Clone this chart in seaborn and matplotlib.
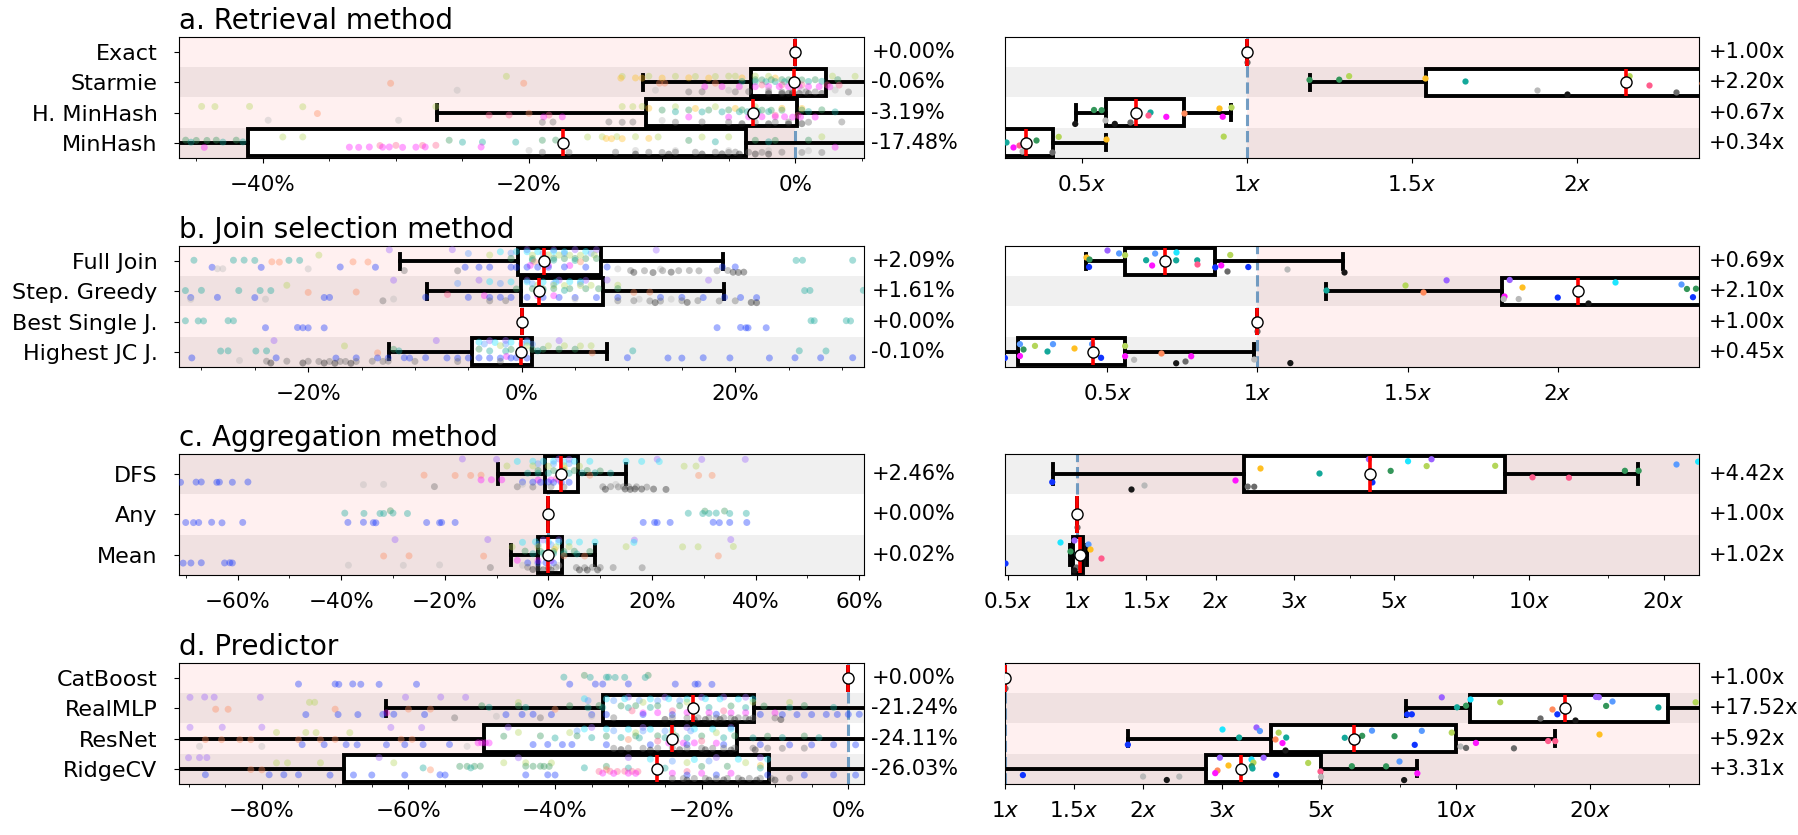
import matplotlib
matplotlib.use("Agg")
import matplotlib.pyplot as plt
from matplotlib.ticker import FuncFormatter, MultipleLocator, FixedLocator, NullFormatter
import numpy as np
import pandas as pd
import seaborn as sns

np.random.seed(3)  # only for the strip jitter

# dataset colours, in dodge order (top to bottom inside a row)
HUES = ["purple", "cyan", "lightblue", "lime", "gold", "seagreen", "teal",
        "salmon", "pink", "magenta", "blue", "lgray", "gray", "black"]
HUE_COLORS = ["#9b62ff", "#1ee6ff", "#5a9bff", "#b4d65a", "#ffbf22", "#34965a",
              "#14a89a", "#ff8a5c", "#ff5c8c", "#ff14ff", "#1034ff", "#b9b9b9",
              "#6a6a6a", "#181818"]

# ---------------- a. Retrieval method ----------------
RET_METHODS = ["Exact", "Starmie", "H. MinHash", "MinHash"]
RET_PERF_LABELS = [0.00, -0.06, -3.19, -17.48]
RET_TIME_LABELS = [1.00, 2.20, 0.67, 0.34]
# (whislo, q1, med, q3, whishi)
RET_PERF_BOX = [(0, 0, 0, 0, 0), (-11.4, -3.35, -0.06, 2.3, 7.0),
                (-26.9, -11.2, -3.19, 0.1, 6.0), (-60.0, -41.15, -17.48, -3.68, 8.0)]
RET_TIME_BOX = [(1, 1, 1, 1, 1), (1.19, 1.544, 2.15, 2.6, 3.5),
                (0.482, 0.573, 0.665, 0.811, 0.952), (0.2, 0.25, 0.332, 0.412, 0.573)]
RET_PERF_PTS = {
    "Starmie": {
        "lime": [-21.7, -13, -11, -9, -7.5, -6, -5, -4.5, -3, -2, 2.8, 4.5],
        "gold": [-13.1, -12, -11.5, -10, -8, -6.5, -4, -1.5],
        "salmon": [-30.4, -20.4, -10.2, -9.8, -6],
        "seagreen": [-3, -2.5, -1.8, -1, -0.5, 0.5, 1.5, 3.2],
        "teal": [-4, -3, -2.2, -1.5, -0.8, 0, 1, 2],
        "magenta": [-6.8, -5.5, -4.2, -3, -2, -1.2, -0.5, 0.3, 1.0, 1.8, 2.6],
        "pink": [-2.5, -1, 0.5, 2.4, 3.3],
        "lgray": [-25.4, -10.5, -5, -2, 0.5, 3],
        "gray": [-8, -7, -4.5, -3.5, -2, -1, -0.2, 0.8, 1.5, 4],
        "black": [-2, -1, -0.5, -0.2, 0.3, 1, 2],
    },
    "H. MinHash": {
        "lime": [-44.6, -43.6, -41, -37, -27, -13, -12.2, -11.5, -9, -6, -3],
        "salmon": [-35.9, -20],
        "lgray": [-39.6, -29.8, -10],
        "pink": [-23, -21.5, -18.5, -1.5, 0.2],
        "magenta": [-18.9, -17.5, -8, -5, -3.5, -2.5, -1.5, -0.8, -0.2, 0.4, 1.5],
        "gray": [-19, -18.2, -14, -13, -12.2, -9, -7, -5, -3, -1.5, -0.5, 1, 3.5],
        "seagreen": [-10, -8, -6.5, -5, -4, -3, -2.5, -1.8, -1, 0.5, 2],
        "teal": [-9, -7, -5.5, -4.2, -3.6, -2.8, -2, 1, 3],
        "gold": [-11, -7.5, -4.5, -1, 0.5],
        "black": [-4, -2, -0.5, 0.5],
    },
    "MinHash": {
        "seagreen": [-45.8, -45, -44.2, -43.5, -42, -26, -19, -18, -8, -3, -1.5, 1],
        "teal": [-45.4, -43, -41.5, -25, -23.5, -21, -6, -2],
        "magenta": [-44.4, -33.5, -32.8, -32, -31, -30.5, -29.5, -28.5, -27.8, -23.6, 3],
        "pink": [-31.2, -30, -28, -27],
        "lime": [-38.5, -37, -15.6, -14.5, -13.4, -12, -10.3, -7, -5, 2],
        "gold": [-14.2, -13.8, -13, -11],
        "lgray": [-20, -12, -9, -5, -2, 1],
        "gray": [-19, -17, -13.5, -11, -10, -9, -7.5, -6, -5, -4.5, -3.5, -2.5, -1, 0.5, 2],
        "black": [-12, -9.5, -7, -5.5, -4.2, -3, -2],
    },
}
RET_TIME_PTS = {
    "Exact": {"gray": [1.0]},
    "Starmie": {"seagreen": [1.19, 1.28], "lime": [1.31, 2.16], "gold": [1.54],
                "teal": [1.66], "lgray": [1.88], "black": [1.97], "pink": [2.22],
                "gray": [2.30], "salmon": [2.38]},
    "H. MinHash": {"black": [0.48, 0.60], "seagreen": [0.537, 0.56], "lgray": [0.57],
                   "gray": [0.647], "teal": [0.707], "pink": [0.70],
                   "magenta": [0.756, 0.927], "salmon": [0.81], "gold": [0.916],
                   "lime": [0.952]},
    "MinHash": {"teal": [0.27], "magenta": [0.29], "pink": [0.31], "lgray": [0.32],
                "seagreen": [0.36], "lime": [0.43, 0.93], "gray": [0.41], "gold": [0.573]},
}

# ---------------- b. Join selection method ----------------
JOIN_METHODS = ["Full Join", "Step. Greedy", "Best Single J.", "Highest JC J."]
JOIN_PERF_LABELS = [2.09, 1.61, 0.00, -0.10]
JOIN_TIME_LABELS = [0.69, 2.10, 1.00, 0.45]
JOIN_PERF_BOX = [(-11.4, -0.33, 2.09, 7.38, 18.86), (-8.9, -0.1, 1.61, 7.62, 18.95),
                 (0, 0, 0, 0, 0), (-12.4, -4.62, -0.10, 0.95, 8.0)]
JOIN_TIME_BOX = [(0.43, 0.56, 0.694, 0.86, 1.286), (1.23, 1.816, 2.068, 2.6, 3.0),
                 (1, 1, 1, 1, 1), (0.1, 0.204, 0.454, 0.56, 0.988)]
JOIN_PERF_PTS = {
    "Full Join": {
        "teal": [-30.7, -27, -26, -25, -21.8, -20.8, 1, 3, 5, 25.7, 26.3, 31],
        "lgray": [-28.5, -28, -20, 9, 13],
        "blue": [-29, -24.4, -17, -13.7, -5.3, -4, -3, -1, -0.5, 0.5, 1.5, 2.5, 4, 6, 8, 18.8, 20],
        "salmon": [-23.4, -22.7, -15.8, -14.4, 1.2, 5.5],
        "lime": [-19, -3, 1, 2.5, 3.5, 4.5, 5.5, 6.8],
        "purple": [-12.4, -6.5, 0.5, 3, 5, 7, 12.6],
        "cyan": [-2, -0.5, 0.5, 1.5, 3, 4, 6],
        "seagreen": [-1, 1, 2, 3, 4, 5, 6, 7],
        "magenta": [0.8, 2.5, 4.5],
        "gray": [-11, -6, 10.2, 11.5, 13.2, 14.7, 15.7, 16.6, 18.3, 19.3],
        "black": [10.5, 12.3, 14, 19.8, 20.3, 20.8],
        "lightblue": [-5, -1, 2, 4, 6.5],
    },
    "Step. Greedy": {
        "teal": [-31.5, -30, -26.5, -24.5, -23.5, 2, 4, 26.5, 27, 32],
        "lgray": [-31, -24, -12, 5, 11, 14],
        "blue": [-31, -28.5, -25, -18.5, -18, -9, -5, -3, -2, -1, 0.5, 2, 3.5, 5, 7, 9,
                 13, 15, 17, 19, 20.5, 22],
        "salmon": [-20, -15.5, 10.5, 12],
        "lime": [-22, 1.5, 3, 4, 5.5, 6.5, 9],
        "purple": [-12, -4, 0.5, 3.5, 6, 8, 17.5],
        "cyan": [-3, -1, 0.5, 2, 3.2, 4.5, 5.5],
        "seagreen": [-0.5, 1, 2, 3, 4.5, 6, 7.2, 9],
        "magenta": [-3.5, 1.5, 3],
        "gray": [-13, -3, -1.5, 9, 10.5, 12, 13, 15, 16.5, 18.5, 20],
        "black": [12.5, 15.5, 21.5, 22],
        "lightblue": [-6, -2, 1, 3, 5.5],
        "pink": [-7],
    },
    "Best Single J.": {
        "teal": [-31.5, -30.3, -29.8, -27.5, -27, 27.1, 27.4, 30.4, 30.8],
        "blue": [-24, -21, -20.5, -20, -18.5, 18.3, 20.5, 21, 21.2, 22.9],
    },
    "Highest JC J.": {
        "blue": [-30.9, -23, -17.4, -15.5, -13.5, -12.5, -11, -10.5, -9, -7, -6, -5, -4,
                 -3, -2, -1, -0.5, 0.5, 9.9, 13.7, 15, 17, 19.5, 23.2, 25.6, 28, 31],
        "teal": [-28.2, -27.5, -24.9, -23.9, -11.5, -3, -1.5, 0, 1.5, 10.4, 26, 28.5],
        "gray": [-23.9, -22, -20, -19, -18, -17, -16.5, -15.5, -14, -13, -12.5, -10, -6, -2],
        "black": [-23.5, -20.5, -18.5, -17.5, -16],
        "purple": [-23.2, -8, -3, -1.5, 0.5, 3.5],
        "lime": [-16.6, -2, 0.5, 2.5, 4, 5.5, 6.5],
        "seagreen": [-12, -4, -1, 1, 2, 3.5, 5],
        "salmon": [-13.5, 6.6],
        "cyan": [-4, -2.5, -1, 0.5],
        "lightblue": [-3.5, -1.5, 0, 1],
        "magenta": [-1.5],
        "lgray": [-26.5],
    },
}
JOIN_TIME_PTS = {
    "Full Join": {"purple": [0.5], "lightblue": [0.54, 0.66], "gold": [0.43],
                  "seagreen": [0.44], "blue": [0.44, 0.86, 0.97], "lime": [0.56, 0.91],
                  "magenta": [0.65, 0.88], "teal": [0.63, 0.73, 0.80], "cyan": [0.73],
                  "pink": [0.80], "gray": [0.90], "lgray": [1.10], "black": [1.29]},
    "Step. Greedy": {"teal": [1.23], "lime": [1.49], "salmon": [1.55],
                     "purple": [1.63, 1.84], "magenta": [1.82], "lgray": [1.82, 1.87],
                     "gold": [1.88], "blue": [2.0, 2.45], "black": [2.1], "cyan": [2.19],
                     "lightblue": [2.41], "seagreen": [2.43, 2.46]},
    "Best Single J.": {"gray": [1.0]},
    "Highest JC J.": {"blue": [0.16, 0.48], "magenta": [0.21, 0.56, 0.78],
                      "lightblue": [0.21, 0.32, 0.45], "seagreen": [0.22],
                      "lime": [0.26, 0.56], "teal": [0.30], "gold": [0.39],
                      "lgray": [0.59, 0.99], "salmon": [0.68], "black": [0.73, 1.11],
                      "gray": [0.76]},
}

# ---------------- c. Aggregation method ----------------
AGG_METHODS = ["DFS", "Any", "Mean"]
AGG_PERF_LABELS = [2.46, 0.00, 0.02]
AGG_TIME_LABELS = [4.42, 1.00, 1.02]
AGG_PERF_BOX = [(-9.8, -0.7, 2.46, 5.7, 14.9), (0, 0, 0, 0, 0), (-7.3, -2.0, 0.02, 2.6, 9.0)]
AGG_TIME_BOX = [(0.826, 2.31, 4.42, 8.84, 17.5), (1, 1, 1, 1, 1), (0.95, 0.97, 1.02, 1.04, 1.07)]
AGG_PERF_PTS = {
    "DFS": {
        "blue": [-71, -68, -67, -64, -63.5, -61, -58, -5, -3, -1.5, 0, 1, 2.5, 4],
        "purple": [-16.6, -10, 2, 4, 21, 29.6, 38],
        "salmon": [-24, -18, -15, -13, 8, 29, 31.6],
        "lgray": [-35.7, -31.8, -5, 13],
        "gray": [-22, -6, -3, 0.5, 3, 10.5, 12, 13.5, 14.5, 15.5, 17, 19],
        "black": [11, 14.8, 15.8, 16.7, 18, 20.3, 22.7],
        "magenta": [-13, -11, -9, -2, 0.5, 2],
        "cyan": [-6, -3, -1, 1, 3, 5, 8, 15, 18, 21.4],
        "teal": [-4, -2, 0, 2, 4, 6.5, 9, 12],
        "seagreen": [-2, 1, 3, 5, 7.5, 10],
        "lime": [-8, -3, 0, 3, 6, 26.2, 28.5],
        "lightblue": [-2, 1, 4],
        "pink": [1.5],
        "gold": [3],
    },
    "Any": {
        "blue": [-70, -68.5, -67.5, -65, -63, -59, -38.7, -35.7, -33.8, -33.3, -23.5, -21,
                 -20.6, -18, 18.3, 20.5, 21, 23.5, 31.8, 33, 35, 38.3],
        "teal": [-39.3, -35.6, -32.5, -31.8, -30, -27.2, 27, 29.8, 31, 32.4, 35, 38.2],
        "seagreen": [-30.5, 30.2, 34],
    },
    "Mean": {
        "blue": [-70.5, -69, -67, -62.5, -61.5, -61, -4, -2, -0.5, 1],
        "purple": [-29.6, -11.7, -1, 2, 16.6, 35.2],
        "salmon": [-31.8, -26.9, -12.5, 3, 7, 32.8],
        "lgray": [-38.6, -28, -21, -5, 2],
        "gray": [-11.2, -4, -2, 0, 1.5, 5.4, 7, 8.5, 10, 12.5, 18.1],
        "black": [-3, -1, 0.5, 6, 7.5, 9.5],
        "magenta": [-6, -2, 0.5],
        "cyan": [-5, -2.5, 0, 2, 4, 6, 9, 16.5],
        "teal": [-3, -1, 1, 3, 5.5],
        "seagreen": [-4.5, -1.5, 1, 3, 5, 8],
        "lime": [-7, -2, 1.5, 4, 15, 25.9, 28.9, 35.7],
        "lightblue": [-2, 0.5],
        "gold": [1],
    },
}
AGG_TIME_PTS = {
    "DFS": {"blue": [0.82, 4.48], "black": [1.39], "lgray": [1.48], "magenta": [2.21],
            "gold": [2.52], "gray": [2.36, 2.44], "teal": [3.41], "purple": [4.40, 6.07],
            "seagreen": [4.92, 16.4, 17.6], "cyan": [5.38, 23.9], "lime": [5.92, 8.42],
            "pink": [10.2, 12.3], "lightblue": [21.3]},
    "Any": {"gray": [1.0]},
    "Mean": {"blue": [0.478], "cyan": [0.878], "purple": [0.978], "seagreen": [0.95],
             "black": [0.98], "teal": [1.0], "gold": [1.09], "lightblue": [1.08],
             "pink": [1.17], "gray": [0.99]},
}

# ---------------- d. Predictor ----------------
PRED_METHODS = ["CatBoost", "RealMLP", "ResNet", "RidgeCV"]
PRED_PERF_LABELS = [0.00, -21.24, -24.11, -26.03]
PRED_TIME_LABELS = [1.00, 17.52, 5.92, 3.31]
PRED_PERF_BOX = [(0, 0, 0, 0, 0), (-63.1, -33.5, -21.24, -12.8, 5.0),
                 (-100, -49.7, -24.11, -15.2, 5.0), (-100, -68.8, -26.03, -10.8, 5.0)]
PRED_TIME_BOX = [(1, 1, 1, 1, 1), (7.74, 10.77, 17.52, 29.9, 40.0),
                 (1.89, 3.86, 5.92, 10.04, 16.7), (0.9, 2.77, 3.31, 5.0, 8.2)]
PRED_PERF_PTS = {
    "CatBoost": {
        "blue": [-75, -70, -69.5, -67.6, -66.5, -64, -58.9, -38, -34.5, -33.5, -30, -23.6,
                 -20.9, -20.5, -18.6],
        "teal": [-38.8, -35.2, -33, -32.7, -31.8, -30.5, -27.7],
        "seagreen": [-36, -27.3],
    },
    "RealMLP": {
        "purple": [-89.8, -87.8, -86.5, -80.2, -60.4, -55.6, -52.2, -30, -25, -20, -17, -14],
        "salmon": [-86.3, -84.6, -70, -60, -57, -40],
        "lime": [-73.5, -72.8, -45, -28, -22, -13, -8],
        "blue": [-74, -69.6, -66.9, -63.5, -62, -57.8, -46.7, -44.5, -43, -40.5, -35, -33,
                 -28, -24, -18, -12, -9, -7, -5, -3, -1.5, 0, 1.5],
        "gray": [-53.7, -42, -32, -24, -22, -20.5, -19, -18, -17, -16, -15, -14, -13, -10],
        "black": [-25, -21, -19.5, -17.5, -15.5, -13.5, -9.2],
        "lgray": [-48, -35],
        "seagreen": [-50, -45, -38, -34, -31, -29, -26, -23, -21, -16, -11.5, -6],
        "teal": [-49, -44, -35.5, -33.5, -30, -27, -19, -14, -8, -2],
        "cyan": [-36, -33, -30.5, -27, -24.5, -22, -19.5, -17.5, -15, -13],
        "lightblue": [-35.5, -32, -28.5, -26, -23],
        "magenta": [-63, -28, -26, -22, -19, -16, -14, -10],
        "pink": [-29.5, -24, -17],
    },
    "ResNet": {
        "purple": [-89.8, -85.4, -80, -62.4, -58.2, -46.4, -35, -28, -22, -16],
        "salmon": [-87.7, -85.5, -83, -81.5, -75, -72, -70, -61, -59.5, -30],
        "lime": [-78, -74, -72.6, -68, -45, -38, -29, -24, -18],
        "blue": [-74.5, -71.5, -68.5, -67, -63, -60.5, -58, -54.4, -43, -41, -39, -37.7,
                 -33, -27, -22, -17, -12, -8, -5, -2, 1],
        "lgray": [-88.5, -80, -52],
        "magenta": [-50.5, -50, -49.5, -49, -24.5, -22.5, -21, -18],
        "pink": [-26, -23.5, -20],
        "cyan": [-36, -33, -30, -27, -24, -21, -18.5, -16],
        "teal": [-40, -35, -31, -28.5, -25, -22, -17, -13, -9, -4],
        "seagreen": [-47, -42, -37, -33, -29, -26, -23.5, -20, -15.5, -11, -6],
        "lightblue": [-37, -32, -28, -25, -21.5],
        "gray": [-32, -30, -28, -26, -24, -22, -20, -18.5, -17, -15.5, -13, -11, -9, -6],
        "black": [-31, -27, -23, -19.5, -16, -12.7],
    },
    "RidgeCV": {
        "purple": [-90, -88.5, -87.5, -64, -45, -30, -18, -12],
        "salmon": [-81.5, -80, -57, -33],
        "lime": [-78, -76.5, -72, -62, -47, -44, -40.5, -22, -14],
        "blue": [-87.7, -79, -77, -75, -70.7, -67.5, -65, -60.5, -55.7, -55, -44, -41, -40,
                 -22, -18, -11, -6, -2, 1],
        "seagreen": [-53, -52, -51, -50.2, -44, -43, -42, -41.5, -40.8, -33, -26, -20, -16.5],
        "teal": [-58, -51.5, -36, -30, -25, -12],
        "pink": [-34, -32.5, -31.5, -30.5, -29.5, -28.7, -22],
        "magenta": [-33.5, -32, -30, -29, -24, -20, -16],
        "cyan": [-27, -21, -15, -11],
        "lightblue": [-24, -19],
        "gray": [-24, -22.5, -21, -19.5, -18, -16.5, -15, -13.5, -12, -10.5, -8],
        "black": [-22, -19, -17, -14.5, -12.5, -10],
        "gold": [-12],
    },
}
PRED_TIME_PTS = {
    "CatBoost": {"gray": [1.0]},
    "RealMLP": {"purple": [9.31, 20.6, 20.9], "teal": [10.07, 28.4], "seagreen": [10.55, 17.68, 21.7],
                "cyan": [10.78], "blue": [7.79, 7.98, 16.88], "lime": [12.58, 34.4],
                "gray": [15.47], "salmon": [16.46], "black": [18.5], "lightblue": [22.4]},
    "ResNet": {"blue": [1.89, 8.1], "cyan": [3.0], "teal": [3.28, 4.18, 5.65],
               "purple": [3.57], "lightblue": [3.65, 6.5, 8.4], "salmon": [3.95],
               "lime": [4.02, 9.8], "magenta": [4.1, 11.1], "black": [4.16],
               "seagreen": [6.18, 7.3], "lgray": [10.2], "gray": [10.55, 13.5],
               "pink": [16.1, 16.7], "gold": [20.9]},
    "RidgeCV": {"blue": [1.13, 3.97], "lgray": [2.0, 2.41, 5.0], "black": [2.26, 7.67],
                "purple": [2.97, 3.72], "magenta": [2.90, 8.21], "salmon": [2.92],
                "gold": [3.10], "cyan": [3.49], "seagreen": [3.50, 5.86, 6.99],
                "lime": [3.53, 4.68], "teal": [3.51], "pink": [4.98], "lightblue": [7.48]},
}

PANELS = [
    ("a. Retrieval method", RET_METHODS, RET_PERF_BOX, RET_PERF_PTS, RET_PERF_LABELS,
     RET_TIME_BOX, RET_TIME_PTS, RET_TIME_LABELS),
    ("b. Join selection method", JOIN_METHODS, JOIN_PERF_BOX, JOIN_PERF_PTS, JOIN_PERF_LABELS,
     JOIN_TIME_BOX, JOIN_TIME_PTS, JOIN_TIME_LABELS),
    ("c. Aggregation method", AGG_METHODS, AGG_PERF_BOX, AGG_PERF_PTS, AGG_PERF_LABELS,
     AGG_TIME_BOX, AGG_TIME_PTS, AGG_TIME_LABELS),
    ("d. Predictor", PRED_METHODS, PRED_PERF_BOX, PRED_PERF_PTS, PRED_PERF_LABELS,
     PRED_TIME_BOX, PRED_TIME_PTS, PRED_TIME_LABELS),
]

PERF_XLIM = [(-46.3, 5.2), (-32.1, 32.1), (-71.3, 61), (-91.3, 2.2)]
PERF_MAJOR = [[-40, -20, 0], [-20, 0, 20], [-60, -40, -20, 0, 20, 40, 60], [-80, -60, -40, -20, 0]]
PERF_MINOR = [5, 5, 10, 5]
TIME_XLIM = [(0.267, 2.37), (0.16, 2.47), (0.478, 24.0), (1.0, 35.0)]
TIME_MAJOR = [[0.5, 1, 1.5, 2], [0.5, 1, 1.5, 2], [0.5, 1, 1.5, 2, 3, 5, 10, 20],
              [1, 1.5, 2, 3, 5, 10, 20]]
TIME_MINOR = [[], [], [4, 7.5, 15], [4, 7.5, 15, 30]]

PALETTE = dict(zip(HUES, HUE_COLORS))
AX_BOTTOMS = [0.8108, 0.5605, 0.3114, 0.0611]
AX_H = 0.1449


def to_frame(points):
    rows = [(m, h, v) for m, d in points.items() for h, vals in d.items() for v in vals]
    return pd.DataFrame(rows, columns=["method", "dataset", "value"])


def draw(ax, methods, boxes, points, labels, ref, xlim, bad_left, alpha, size, fmt):
    n = len(methods)
    for i in range(n):
        if (n - 1 - i) % 2 == 0:
            ax.axhspan(i - 0.5, i + 0.5, color="black", alpha=0.06, lw=0, zorder=0)
    if bad_left:
        ax.axvspan(xlim[0] - 100, ref, color="red", alpha=0.06, lw=0, zorder=0)
    else:
        ax.axvspan(ref, xlim[1] * 10, color="red", alpha=0.06, lw=0, zorder=0)
    ax.axvline(ref, color="steelblue", ls="--", lw=2.2, alpha=0.75, zorder=1)

    stats = [dict(whislo=b[0], q1=b[1], med=b[2], q3=b[3], whishi=b[4]) for b in boxes]
    art = ax.bxp(stats, positions=list(range(n)), widths=0.9, orientation="horizontal",
                 patch_artist=True, showfliers=False, manage_ticks=False, capwidths=0.5,
                 boxprops=dict(facecolor="white", edgecolor="black", lw=2.8),
                 whiskerprops=dict(color="black", lw=2.8),
                 capprops=dict(color="black", lw=2.8),
                 medianprops=dict(color="red", lw=2.6), zorder=2)
    for m in art["medians"]:
        m.set_zorder(4)

    sns.stripplot(data=to_frame(points), x="value", y="method", hue="dataset",
                  order=methods, hue_order=HUES, palette=PALETTE, dodge=True,
                  jitter=True, size=size, alpha=alpha, linewidth=0, legend=False,
                  orient="h", ax=ax, zorder=3)

    ax.plot([b[2] for b in boxes], list(range(n)), ls="none", marker="o", ms=8,
            mfc="white", mec="black", mew=1, zorder=5)

    tr = ax.get_yaxis_transform()
    for i, v in enumerate(labels):
        ax.text(1.01 if bad_left else 1.014, i, fmt(v), transform=tr, va="center",
                ha="left", fontsize=15)

    ax.set_ylim(n - 0.5, -0.5)
    ax.set_xlabel("")
    ax.set_ylabel("")


fig = plt.figure(figsize=(17.99, 8.35), dpi=100)

for k, (title, methods, pbox, ppts, plab, tbox, tpts, tlab) in enumerate(PANELS):
    axl = fig.add_axes([0.0995, AX_BOTTOMS[k], 0.381, AX_H])
    axr = fig.add_axes([0.5586, AX_BOTTOMS[k], 0.3858, AX_H])

    draw(axl, methods, pbox, ppts, plab, 0, PERF_XLIM[k], True, 0.38, 5,
         lambda v: f"{v:+.2f}%")
    axl.set_xlim(*PERF_XLIM[k])
    axl.xaxis.set_major_locator(FixedLocator(PERF_MAJOR[k]))
    axl.xaxis.set_minor_locator(MultipleLocator(PERF_MINOR[k]))
    axl.xaxis.set_major_formatter(
        FuncFormatter(lambda v, _: f"{v:.0f}%".replace("-", "\u2212")))
    axl.set_yticks(range(len(methods)))
    axl.set_yticklabels(methods)
    axl.tick_params(axis="y", labelsize=16, pad=12)
    axl.tick_params(axis="x", which="major", labelsize=15.5, pad=9)
    axl.set_title(title, loc="left", fontsize=20, pad=6)

    draw(axr, methods, tbox, tpts, tlab, 1, TIME_XLIM[k], False, 1.0, 4.5,
         lambda v: f"+{v:.2f}x")
    if k >= 2:
        axr.set_xscale("symlog", linthresh=2, linscale=0.556)
    axr.set_xlim(*TIME_XLIM[k])
    axr.xaxis.set_major_locator(FixedLocator(TIME_MAJOR[k]))
    axr.xaxis.set_minor_locator(FixedLocator(TIME_MINOR[k]))
    axr.xaxis.set_minor_formatter(NullFormatter())
    axr.xaxis.set_major_formatter(FuncFormatter(lambda v, _: f"{v:g}$x$"))
    axr.set_yticks([])
    axr.tick_params(axis="x", which="major", labelsize=15.5, pad=9)

fig.savefig("out.png", dpi=100)
